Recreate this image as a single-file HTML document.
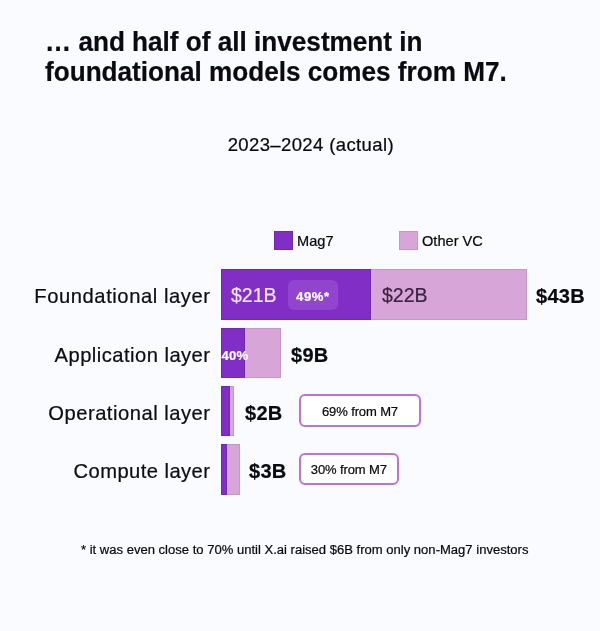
<!DOCTYPE html>
<html lang="en">
<head>
<meta charset="utf-8">
<title>Investment in foundational models</title>
<style>
  html, body { margin: 0; padding: 0; }
  body {
    width: 600px; height: 631px; overflow: hidden; position: relative;
    background: #fafbfe;
    font-family: "Liberation Sans", sans-serif;
    color: #111;
    -webkit-text-stroke: .22px currentColor;
  }
  .abs { position: absolute; white-space: nowrap; line-height: 1; }
  h1 {
    position: absolute; left: 45px; top: 26.8px; margin: 0;
    font-size: 27.4px; line-height: 30px; font-weight: 700; color: #0a0a10;
    white-space: nowrap; transform-origin: 0 0; transform: scaleX(.954);
  }
  .sub { left: 227.7px; top: 135.8px; font-size: 18.5px; letter-spacing: .38px; color: #0a0a0e; }
  .sq { position: absolute; width: 19px; height: 19px; top: 231px; box-sizing: border-box; }
  .leg { top: 233.5px; font-size: 14.6px; color: #0a0a0e; }
  .row-label { right: 390px; font-size: 20.2px; color: #0e0e12; text-align: right; }
  .bar { position: absolute; left: 221px; height: 51px; }
  .seg { position: absolute; top: 0; height: 100%; box-sizing: border-box; }
  .dark { background: #802ec5; border: 1px solid #7328b4; }
  .light { background: #d8a5d8; border: 1px solid #c795c9; border-left: 0; }
  .tot { font-size: 20px; font-weight: 700; color: #0b0b0f; letter-spacing: .3px; margin-top: -.5px; }
  .inbar { font-size: 19.5px; }
  .badge {
    position: absolute; left: 288px; top: 280px; width: 50px; height: 30px;
    border-radius: 6px; background: #9145cf;
  }
  .pct { font-weight: 700; color: #fff; font-size: 13.1px; letter-spacing: .6px; }
  .call {
    position: absolute; box-sizing: border-box; height: 32.5px; left: 298.7px;
    border: 2px solid #b974dc; border-radius: 6px; background: #fff;
    font-size: 13px; letter-spacing: -.12px; line-height: 29.5px; text-align: center; color: #0b0b0b;
  }
  .foot { left: 81px; top: 543.2px; font-size: 13.05px; color: #0a0a0e; }
</style>
</head>
<body>
  <h1>… and half of all investment in<br>foundational models comes from M7.</h1>
  <div class="abs sub">2023–2024 (actual)</div>

  <div class="sq dark" style="left:274px"></div>
  <div class="abs leg" style="left:297px">Mag7</div>
  <div class="sq light" style="left:399px; border-left:1px solid #c795c9"></div>
  <div class="abs leg" style="left:422px">Other VC</div>

  <div class="abs row-label" style="top:286px; letter-spacing:.57px; right:389.4px">Foundational layer</div>
  <div class="abs row-label" style="top:344.5px; letter-spacing:.46px; right:389.5px">Application layer</div>
  <div class="abs row-label" style="top:403px; letter-spacing:.5px; right:389.5px">Operational layer</div>
  <div class="abs row-label" style="top:461px; letter-spacing:.43px; right:389.6px">Compute layer</div>

  <div class="bar" style="top:269px; width:306px">
    <div class="seg dark" style="left:0; width:150px"></div>
    <div class="seg light" style="left:150px; width:156px"></div>
  </div>
  <div class="abs inbar" style="left:231px; top:286px; color:#f1e4fb">$21B</div>
  <div class="badge"></div>
  <div class="abs pct" style="left:296px; top:290px">49%*</div>
  <div class="abs inbar" style="left:382px; top:286px; color:#3a2442">$22B</div>
  <div class="abs tot" style="left:536px; top:286px">$43B</div>

  <div class="bar" style="top:328px; width:60px; height:50px">
    <div class="seg dark" style="left:0; width:24px"></div>
    <div class="seg light" style="left:24px; width:36px"></div>
  </div>
  <div class="abs pct" style="left:221.5px; top:349px; letter-spacing:.25px">40%</div>
  <div class="abs tot" style="left:291px; top:345px">$9B</div>

  <div class="bar" style="top:386px; width:13px; height:50px">
    <div class="seg dark" style="left:0; width:9px"></div>
    <div class="seg light" style="left:9px; width:4px"></div>
  </div>
  <div class="abs tot" style="left:245px; top:403px">$2B</div>
  <div class="call" style="top:394.3px; width:122.6px; line-height:31px">69% from M7</div>

  <div class="bar" style="top:444px; width:19px">
    <div class="seg dark" style="left:0; width:5.5px"></div>
    <div class="seg light" style="left:5.5px; width:13.5px"></div>
  </div>
  <div class="abs tot" style="left:249px; top:461px">$3B</div>
  <div class="call" style="top:452.5px; width:100.2px">30% from M7</div>

  <div class="abs foot">* it was even close to 70% until X.ai raised $6B from only non-Mag7 investors</div>
</body>
</html>
